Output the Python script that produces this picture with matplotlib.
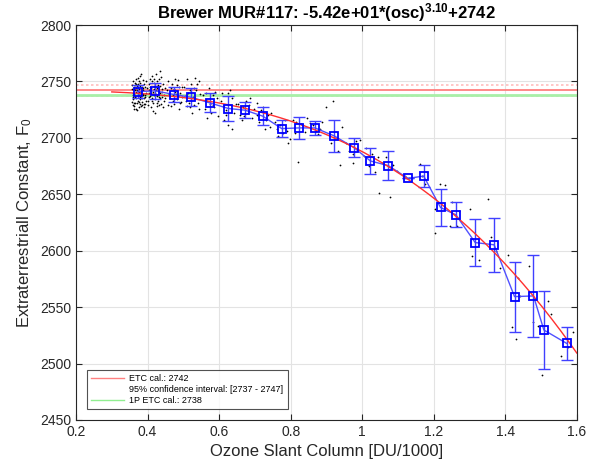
import numpy as np
import matplotlib
matplotlib.use("Agg")
import matplotlib.pyplot as plt
from matplotlib.lines import Line2D

plt.rcParams['font.family'] = ['Liberation Sans', 'DejaVu Sans']
plt.rcParams['mathtext.fontset'] = 'custom'
plt.rcParams['mathtext.rm'] = 'Liberation Sans'
plt.rcParams['mathtext.it'] = 'Liberation Sans'
plt.rcParams['mathtext.bf'] = 'Liberation Sans:bold'

# ---- Data ----
bin_x = [0.372, 0.422, 0.474, 0.521, 0.574, 0.626, 0.673, 0.722, 0.775, 0.823,
         0.868, 0.922, 0.977, 1.023, 1.073, 1.128, 1.172, 1.219, 1.262, 1.316,
         1.369, 1.426, 1.479, 1.508, 1.572]
bin_y = [2741.0, 2741.6, 2738.4, 2736.0, 2731.0, 2726.0, 2724.5, 2719.2, 2708.2, 2708.8,
         2708.8, 2701.7, 2691.4, 2679.5, 2675.4, 2664.1, 2666.1, 2638.3, 2631.8, 2607.2,
         2605.2, 2559.3, 2559.9, 2529.7, 2517.8]
bin_err = [6.0, 7.0, 6.5, 8.0, 8.5, 11.0, 7.0, 8.0, 7.5, 10.0,
           6.5, 14.5, 8.5, 11.5, 12.5, 0.0, 10.0, 16.0, 11.0, 21.0,
           24.0, 31.0, 36.5, 34.5, 15.0]

obs_x = [
    # cluster ~0.37
    0.361, 0.372, 0.366, 0.380, 0.358, 0.375, 0.369, 0.384, 0.363, 0.377, 0.390, 0.360, 0.371, 0.386, 0.367,
    0.379, 0.356, 0.373, 0.388, 0.364, 0.382, 0.370, 0.393, 0.359, 0.376, 0.385, 0.368, 0.381, 0.362, 0.374,
    0.392, 0.357, 0.378, 0.387, 0.365, 0.383, 0.371, 0.395, 0.360, 0.376, 0.389, 0.367, 0.380, 0.363, 0.374,
    0.391, 0.358, 0.385, 0.370, 0.378, 0.396, 0.364, 0.382, 0.369, 0.387, 0.361, 0.377, 0.393, 0.366, 0.384,
    0.372, 0.398, 0.359, 0.381, 0.368, 0.390, 0.375, 0.362, 0.386, 0.373, 0.394, 0.365, 0.379, 0.397, 0.357,
    # cluster ~0.42
    0.405, 0.418, 0.412, 0.428, 0.409, 0.422, 0.436, 0.415, 0.403, 0.431, 0.419, 0.441, 0.407, 0.425, 0.413,
    0.434, 0.401, 0.421, 0.438, 0.410, 0.427, 0.416, 0.444, 0.404, 0.423, 0.432, 0.411, 0.439, 0.418, 0.426,
    0.406, 0.435, 0.414, 0.429, 0.446, 0.402, 0.420, 0.437, 0.408, 0.424, 0.442, 0.417, 0.430, 0.412, 0.433,
    0.448, 0.404, 0.427, 0.440, 0.415, 0.422, 0.436, 0.409, 0.431, 0.445, 0.419, 0.425, 0.450,
    # ~0.47
    0.455, 0.462, 0.468, 0.473, 0.478, 0.484, 0.489, 0.494, 0.458, 0.466, 0.471, 0.476, 0.481, 0.487, 0.492,
    0.497, 0.460, 0.474, 0.483, 0.490, 0.457, 0.470, 0.486, 0.495, 0.465, 0.479,
    # ~0.52
    0.503, 0.508, 0.513, 0.518, 0.522, 0.527, 0.531, 0.536, 0.541, 0.545, 0.505, 0.511, 0.516, 0.524, 0.529,
    0.534, 0.539, 0.543, 0.547, 0.520, 0.533, 0.509,
    # ~0.57
    0.555, 0.560, 0.566, 0.571, 0.577, 0.582, 0.588, 0.593, 0.598, 0.563, 0.574, 0.585, 0.565, 0.584,
    # ~0.63
    0.605, 0.612, 0.618, 0.624, 0.630, 0.635, 0.626, 0.641, 0.646, 0.608, 0.620, 0.637, 0.615,
    # ~0.67
    0.653, 0.658, 0.663, 0.668, 0.674, 0.680, 0.686, 0.692, 0.697, 0.671, 0.684,
    # ~0.72
    0.705, 0.706, 0.712, 0.718, 0.723, 0.730, 0.737, 0.742, 0.746, 0.727,
    # ~0.77
    0.755, 0.762, 0.765, 0.770, 0.778, 0.784, 0.793, 0.798, 0.789,
    # ~0.82
    0.806, 0.812, 0.816, 0.821, 0.828, 0.835, 0.840, 0.845,
    # ~0.87
    0.855, 0.863, 0.870, 0.876, 0.882, 0.889,
    # ~0.92
    0.900, 0.914, 0.919, 0.925, 0.932, 0.938, 0.944,
    # ~0.98
    0.955, 0.962, 0.974, 0.975, 0.983, 0.993,
    # ~1.02
    1.005, 1.012, 1.020, 1.028, 1.035, 1.044,
    # ~1.07
    1.047, 1.055, 1.068, 1.079, 1.085, 1.096,
    # ~1.13 - 1.18
    1.120, 1.130, 1.161, 1.168, 1.175, 1.180,
    # ~1.22 - 1.27
    1.203, 1.203, 1.217, 1.231, 1.245, 1.250, 1.264, 1.270,
    # ~1.30 - 1.39
    1.301, 1.307, 1.326, 1.352, 1.360, 1.385, 1.375,
    # ~1.40 - 1.60
    1.408, 1.419, 1.429, 1.436, 1.440, 1.467, 1.478, 1.492, 1.504, 1.520, 1.529, 1.557, 1.575, 1.590,
]
obs_y = [
    2745, 2738, 2731, 2749, 2740, 2727, 2752, 2735, 2743, 2741, 2730, 2734, 2746, 2744, 2726,
    2755, 2747, 2733, 2739, 2737, 2728, 2742, 2745, 2729, 2750, 2732, 2748, 2737, 2739, 2744,
    2736, 2743, 2730, 2751, 2736, 2741, 2725, 2740, 2750, 2738, 2727, 2741, 2734, 2728, 2753,
    2748, 2736, 2745, 2731, 2746, 2733, 2747, 2739, 2735, 2742, 2731, 2743, 2738, 2749, 2729,
    2740, 2744, 2738, 2757, 2744, 2735, 2732, 2726, 2738, 2748, 2730, 2742, 2736, 2750, 2732,
    2742, 2738, 2750, 2733, 2727, 2745, 2740, 2731, 2748, 2752, 2743, 2736, 2737, 2728, 2755,
    2746, 2733, 2740, 2730, 2744, 2737, 2724, 2748, 2740, 2757, 2741, 2735, 2743, 2749, 2731,
    2745, 2735, 2739, 2747, 2738, 2729, 2734, 2754, 2752, 2742, 2727, 2746, 2739, 2733, 2729,
    2744, 2736, 2750, 2741, 2741, 2722, 2759, 2740, 2736, 2733, 2752, 2744, 2735,
    2742, 2735, 2748, 2730, 2741, 2737, 2745, 2732, 2729, 2744, 2738, 2752, 2734, 2726, 2740,
    2736, 2739, 2743, 2747, 2731, 2750, 2733, 2751, 2745, 2728, 2739,
    2745, 2733, 2740, 2727, 2748, 2736, 2729, 2742, 2731, 2750, 2737, 2752, 2731, 2722, 2744,
    2735, 2748, 2726, 2739, 2742, 2753, 2728,
    2738, 2726, 2733, 2744, 2722, 2729, 2741, 2735, 2719, 2740, 2730, 2727, 2718, 2738,
    2733, 2728, 2720, 2740, 2742, 2708, 2711, 2722, 2730, 2740, 2725, 2735, 2716,
    2730, 2720, 2716, 2727, 2733, 2722, 2735, 2718, 2726, 2719, 2729,
    2731, 2720, 2714, 2725, 2727, 2716, 2720, 2710, 2722, 2708,
    2714, 2708, 2702, 2711, 2704, 2716, 2695, 2699, 2706,
    2716, 2704, 2714, 2679, 2712, 2711, 2705, 2718,
    2713, 2711, 2706, 2703, 2708, 2714,
    2727, 2695, 2733, 2700, 2688, 2676, 2710,
    2695, 2688, 2686, 2678, 2697, 2698,
    2684, 2691, 2675, 2686, 2670, 2683,
    2651, 2678, 2683, 2647.5, 2676, 2671,
    2666, 2664, 2677, 2666, 2659, 2670,
    2637, 2615.5, 2659, 2658.5, 2622, 2643, 2622, 2635,
    2637, 2595, 2592, 2646, 2612, 2585, 2600,
    2596.6, 2532.6, 2521.7, 2576, 2560, 2586, 2536.4, 2533.5, 2490, 2555, 2544, 2506.9, 2515, 2527.5,
]

fit_a = -54.2
fit_b = 3.10
fit_c = 2742
etc_cal = 2742
ci_low, ci_high = 2737, 2747
etc_1p = 2738

# ---- Figure ----
fig = plt.figure(figsize=(5.94, 4.63), dpi=100)
ax = fig.add_axes([0.128, 0.093, 0.843, 0.853])

ax.set_xlim(0.2, 1.6)
ax.set_ylim(2450, 2800)
ax.set_xticks([0.2, 0.4, 0.6, 0.8, 1.0, 1.2, 1.4, 1.6])
ax.set_xticklabels(['0.2', '0.4', '0.6', '0.8', '1', '1.2', '1.4', '1.6'])
ax.set_yticks(np.arange(2450, 2801, 50))
ax.grid(True, color='#e3e3e3', linewidth=0.8, zorder=0)
ax.set_axisbelow(True)
ax.tick_params(direction='in', top=True, right=True, labelsize=10, length=4,
               color='#262626', labelcolor='#262626')
for s in ax.spines.values():
    s.set_color('#262626')
    s.set_linewidth(0.8)

# horizontal reference lines
ax.axhline(ci_high, color='#ffbcbc', linestyle=(0, (1.5, 1.5)), linewidth=1.2, zorder=1)
ax.axhline(ci_low, color='#ffbcbc', linestyle=(0, (1.5, 1.5)), linewidth=1.2, zorder=1)
ax.axhline(etc_cal, color='#ff8080', linewidth=1.3, zorder=1)
ax.axhline(etc_1p, color='#a8f0a8', linewidth=2.0, zorder=1)

# observations
ax.scatter(obs_x, obs_y, s=1.6, c='black', linewidths=0, zorder=2)

# fit curve
xf = np.linspace(0.3, 1.6, 200)
yf = fit_a * xf ** fit_b + fit_c
ax.plot(xf, yf, color='#ff3030', linewidth=1.0, zorder=4)

# binned means with error bars
ax.plot(bin_x, bin_y, color='#5050ff', linewidth=1.0, zorder=3)
eb = ax.errorbar(bin_x, bin_y, yerr=bin_err, fmt='none', ecolor='#4040ff',
                 elinewidth=1.0, capsize=4, capthick=1.0, zorder=3)
for cap in eb[1]:
    cap.set_color('#8080ff')
ax.plot(bin_x, bin_y, linestyle='none', marker='s', markersize=6.3,
        markerfacecolor='none', markeredgecolor='#0000ff', markeredgewidth=1.3, zorder=5)

ax.set_title(r'Brewer MUR#117: -5.42e+01*(osc)$^{\mathbf{3.10}}$+2742',
             fontsize=12, fontweight='bold', pad=5)
ax.set_xlabel('Ozone Slant Column [DU/1000]', fontsize=12, color='#262626')
ax.set_ylabel(r'Extraterrestriall Constant, F$_0$', fontsize=12, color='#262626')

handles = [Line2D([], [], color='#ff8080', linewidth=1.0),
           Line2D([], [], color='none'),
           Line2D([], [], color='#90ee90', linewidth=1.0)]
labels = ['ETC cal.: %d' % etc_cal,
          '95%% confidence interval: [%d - %d]' % (ci_low, ci_high),
          '1P ETC cal.: %d' % etc_1p]
leg = ax.legend(handles, labels, loc='lower left', bbox_to_anchor=(0.021, 0.027),
                fontsize=6.5, handlelength=3.7, frameon=True, fancybox=False,
                borderpad=0.45, labelspacing=0.25, handletextpad=0.6, borderaxespad=0)
leg.get_frame().set_edgecolor('#262626')
leg.get_frame().set_linewidth(0.8)

fig.savefig('out.png', dpi=100)
